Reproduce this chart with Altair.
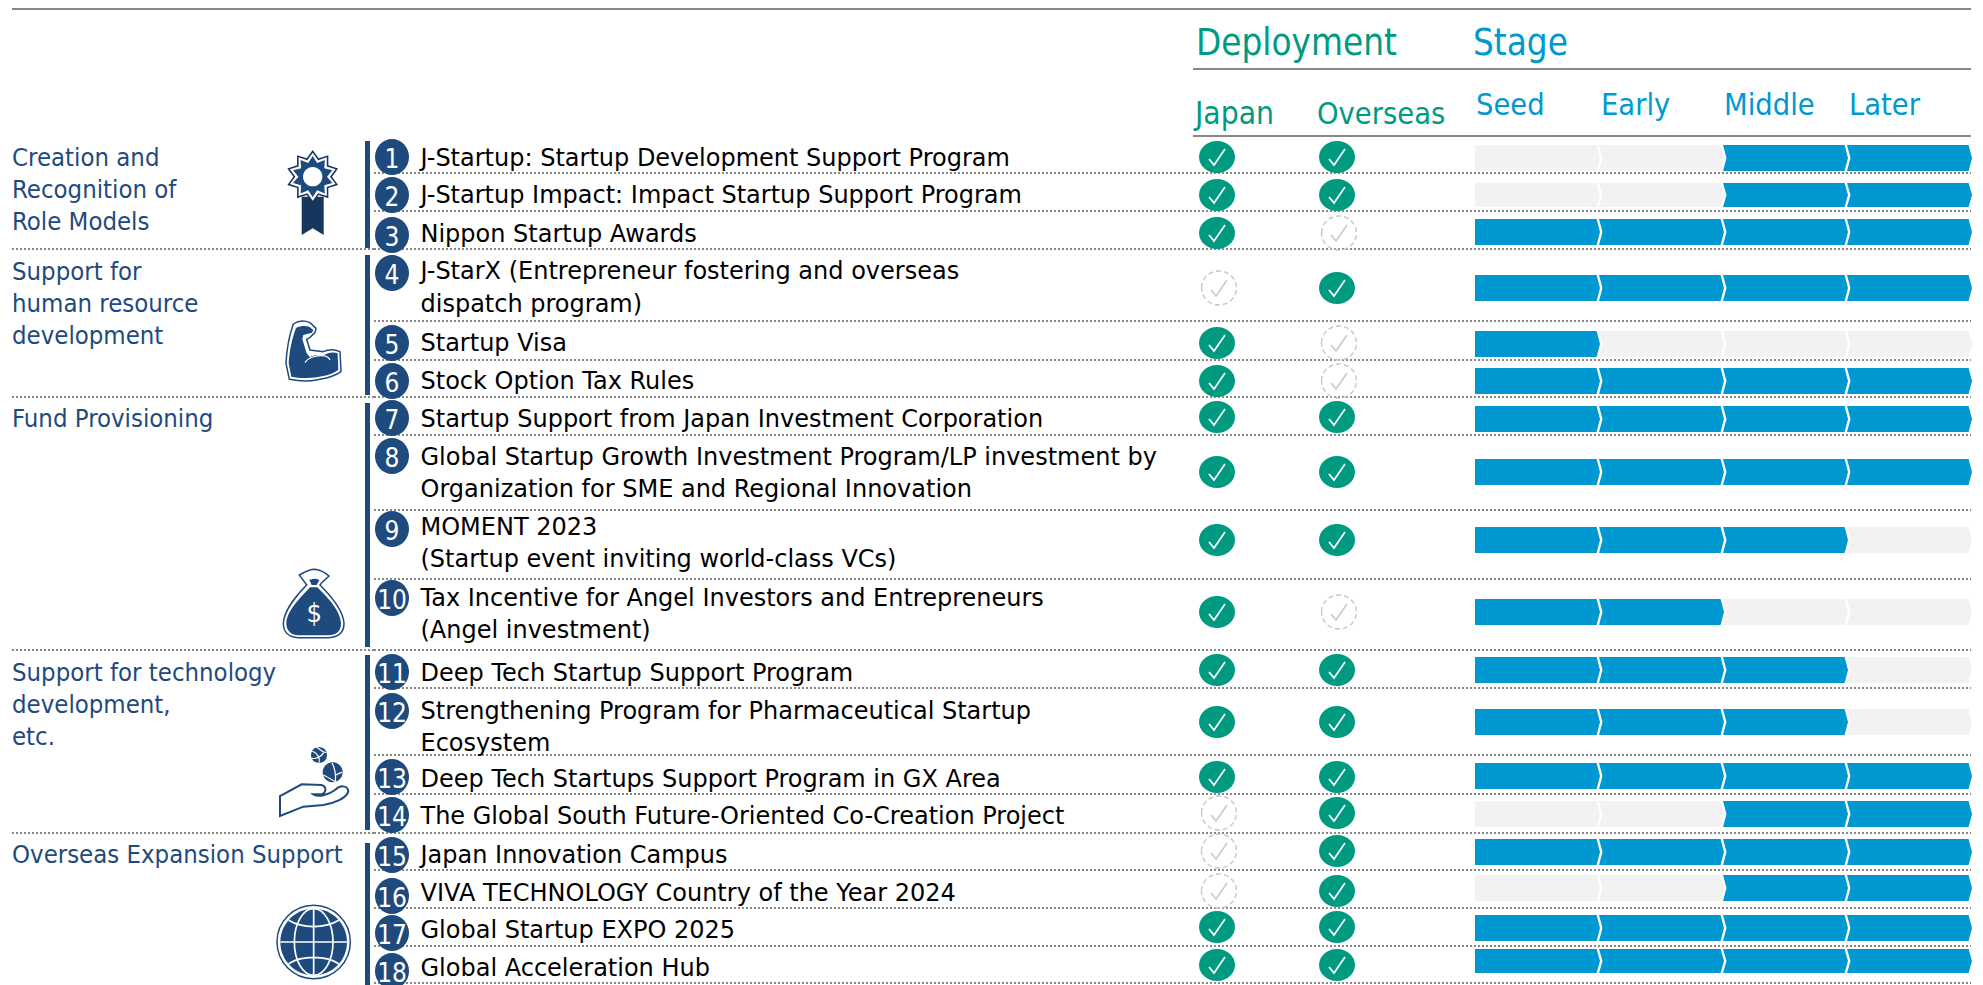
import altair as alt
import pandas as pd

# ---------- values ----------
PROGRAMS = [
    ["J-Startup: Startup Development Support Program"],
    ["J-Startup Impact: Impact Startup Support Program"],
    ["Nippon Startup Awards"],
    ["J-StarX (Entrepreneur fostering and overseas", "dispatch program)"],
    ["Startup Visa"],
    ["Stock Option Tax Rules"],
    ["Startup Support from Japan Investment Corporation"],
    ["Global Startup Growth Investment Program/LP investment by", "Organization for SME and Regional Innovation"],
    ["MOMENT 2023", "(Startup event inviting world-class VCs)"],
    ["Tax Incentive for Angel Investors and Entrepreneurs", "(Angel investment)"],
    ["Deep Tech Startup Support Program"],
    ["Strengthening Program for Pharmaceutical Startup", "Ecosystem"],
    ["Deep Tech Startups Support Program in GX Area"],
    ["The Global South Future-Oriented Co-Creation Project"],
    ["Japan Innovation Campus"],
    ["VIVA TECHNOLOGY Country of the Year 2024"],
    ["Global Startup EXPO 2025"],
    ["Global Acceleration Hub"],
]
GROUP_LINES = ["Creation and", "Recognition of", "Role Models",
               "Support for", "human resource", "development",
               "Fund Provisioning",
               "Support for technology", "development,", "etc.",
               "Overseas Expansion Support"]
DEPLOY_COLS = ["Japan", "Overseas"]
STAGES = ["Seed", "Early", "Middle", "Later"]
JAPAN =    [1,1,1,0,1,1,1,1,1,1,1,1,1,0,0,0,1,1]
OVERSEAS = [1,1,0,1,0,0,1,1,1,0,1,1,1,1,1,1,1,1]
SEED =     [0,0,1,1,1,1,1,1,1,1,1,1,1,0,1,0,1,1]
EARLY =    [0,0,1,1,0,1,1,1,1,1,1,1,1,0,1,0,1,1]
MIDDLE =   [1,1,1,1,0,1,1,1,1,0,1,1,1,1,1,1,1,1]
LATER =    [1,1,1,1,0,1,1,1,0,0,0,0,1,1,1,1,1,1]

# ---------- layout, in page pixels ----------
M = 8
W, H = 1983 - 2 * M, 985 - M
NAVY, DARK, GREEN, BLUE, PALE, GREY, RULE = "#1F4A7E", "#17365D", "#009A80", "#0098D0", "#F2F2F2", "#C8C8C8", "#888888"
FONT = "DejaVu Sans"
COND = "DejaVu Sans Condensed"

BAR_Y = [158,195,232,288,344,381,419,472,540,612,670,722,776,814,852,888,928,961]
CHK_Y = [157,195,233,288,343,381,417,472,540,612,670,722,777,813,851,891,927,965]
BADGE_Y = [157,195,235,273,343,381,418,456,529,598,672,711,777,815,855,896,933,971]
EDGE_Y = [173,211,249,321,360,397,435,510,579,650,688,755,794,833,870,908,946,983]
LINE_Y = [166,203,242,279,312,351,389,427,465,497,535,567,606,638,681,719,751,787,824,863,901,938,976]
GROUP_Y = [166,198,230,280,312,344,427,681,713,745,863]
GROUP_EDGE_ROWS = [3, 6, 10, 14]
SPINE_Y = [141,248,255,395,403,647,655,830,843,985]
STAGE_X = [1536,1660,1784,1908]
STAGE_LABEL_X = [1476,1601,1724,1849]


def up(vals):
    return [v - M for v in vals]


def pos(field, domain, rng):
    return dict(field=field, type="quantitative", axis=None,
                scale=alt.Scale(domain=list(domain), range=up(rng)))


def ellipse(rx, ry, dx=0):
    return (f"M{dx-rx} 0 C{dx-rx} {-ry*0.552} {dx-rx*0.552} {-ry} {dx} {-ry} "
            f"C{dx+rx*0.552} {-ry} {dx+rx} {-ry*0.552} {dx+rx} 0 "
            f"C{dx+rx} {ry*0.552} {dx+rx*0.552} {ry} {dx} {ry} "
            f"C{dx-rx*0.552} {ry} {dx-rx} {ry*0.552} {dx-rx} 0 Z")


def chevron(h, first):
    t = h / 2
    left = f"M-61 {-t} L60.6 {-t} L64 0 L60.6 {t} L-61 {t}"
    return left + (" Z" if first else " L-57.5 0 Z")


one = pd.DataFrame({"i": [0]})
layers = []


def rule(x1, x2, y, color=RULE, width=2, dash=None):
    kw = dict(color=color, strokeWidth=width, opacity=1)
    if dash:
        kw["strokeDash"] = dash
    return alt.Chart(one).mark_rule(**kw).encode(
        x=alt.value(x1 - M), x2=alt.value(x2 - M), y=alt.value(y - M))


def icon(d, x, y, fill=None, stroke=None, sw=1.0, k=1 / 3):
    kw = dict(shape=d, size=(2 * k) ** 2, opacity=1, strokeWidth=sw)
    kw["filled"] = fill is not None
    if fill:
        kw["fill"] = fill
    if stroke:
        kw["stroke"] = stroke
    else:
        kw["strokeWidth"] = 0
    return alt.Chart(one).mark_point(**kw).encode(x=alt.value(x - M), y=alt.value(y - M))


# header rules
layers += [rule(12, 1971, 9, width=2), rule(1193, 1971, 69), rule(1193, 1971, 136)]

# dotted separators
edge_df = pd.DataFrame({"edge": list(range(1, 19))})
edge_df["group"] = edge_df["edge"].isin(GROUP_EDGE_ROWS)
sep = dict(color=RULE, strokeWidth=2, strokeDash=[2, 2], opacity=1)
layers.append(alt.Chart(edge_df).mark_rule(**sep).encode(
    x=alt.value(374 - M), x2=alt.value(1971 - M),
    y=alt.Y(**pos("edge", range(1, 19), EDGE_Y))))
layers.append(alt.Chart(edge_df[edge_df["group"]]).mark_rule(**sep).encode(
    x=alt.value(12 - M), x2=alt.value(374 - M),
    y=alt.Y(**pos("edge", range(1, 19), EDGE_Y))))

# navy spines per group
spine_df = pd.DataFrame({"a": [0, 2, 4, 6, 8], "b": [1, 3, 5, 7, 9]})
layers.append(alt.Chart(spine_df).mark_rule(color=NAVY, strokeWidth=5, opacity=1).encode(
    x=alt.value(367.5 - M),
    y=alt.Y(**pos("a", range(10), SPINE_Y)),
    y2=alt.Y2("b:Q")))

# stage chevrons
rows = []
for r in range(18):
    for s, col in enumerate([SEED, EARLY, MIDDLE, LATER]):
        rows.append({"row": r + 1, "stage": s, "on": col[r],
                     "path": chevron(24 if r + 1 in (2, 18) else 26, s == 0)})
cells = pd.DataFrame(rows)
layers.append(alt.Chart(cells).mark_point(filled=True, size=4, opacity=1, strokeWidth=0).encode(
    x=alt.X(**pos("stage", range(4), STAGE_X)),
    y=alt.Y(**pos("row", range(1, 19), BAR_Y)),
    shape=alt.Shape("path:N", scale=None, legend=None),
    fill=alt.Fill("on:N", scale=alt.Scale(domain=[0, 1], range=[PALE, BLUE]), legend=None),
))

# deployment checks
dep = pd.DataFrame([{"row": r + 1, "col": c, "on": v[r]}
                    for r in range(18) for c, v in enumerate([JAPAN, OVERSEAS])])
chk_x = [1217, 1337]
xe = alt.X(**pos("col", [0, 1], chk_x))
ye = alt.Y(**pos("row", range(1, 19), CHK_Y))
tick = "M-8 2 L-3 8 L8 -8"
tick_off = "M-6 2 L-1 8 L10 -8"
on_df, off_df = dep[dep["on"] == 1], dep[dep["on"] == 0]
layers.append(alt.Chart(on_df).mark_point(shape=ellipse(18, 16), size=4, filled=True, fill=GREEN,
                                          opacity=1, strokeWidth=0).encode(x=xe, y=ye))
layers.append(alt.Chart(on_df).mark_point(shape=tick, size=4, filled=False, stroke="white",
                                          strokeWidth=1.7, opacity=1).encode(x=xe, y=ye))
layers.append(alt.Chart(off_df).mark_point(shape=ellipse(17.5, 17, 2), size=4, filled=False, stroke=GREY,
                                           strokeWidth=1.4, strokeDash=[5, 3], opacity=1).encode(x=xe, y=ye))
layers.append(alt.Chart(off_df).mark_point(shape=tick_off, size=4, filled=False, stroke=GREY,
                                           strokeWidth=1.5, opacity=1).encode(x=xe, y=ye))

# numbered badges
badge = pd.DataFrame({"row": list(range(1, 19)), "num": [str(i) for i in range(1, 19)]})
by = alt.Y(**pos("row", range(1, 19), BADGE_Y))
layers.append(alt.Chart(badge).mark_point(shape=ellipse(17, 18), size=4, filled=True, fill=NAVY,
                                          opacity=1, strokeWidth=0).encode(x=alt.value(392 - M), y=by))
layers.append(alt.Chart(badge).mark_text(font=COND, fontSize=26, color="white", align="center",
                                         baseline="middle", dy=3).encode(x=alt.value(392 - M), y=by, text="num:N"))

# programme text
prog_lines = [t for p in PROGRAMS for t in p]
prog = pd.DataFrame({"i": list(range(len(prog_lines))), "t": prog_lines})
layers.append(alt.Chart(prog).mark_text(font=FONT, fontSize=24, color="#000000", align="left",
                                        baseline="alphabetic").encode(
    x=alt.value(420.5 - M), y=alt.Y(**pos("i", prog["i"], LINE_Y)), text="t:N"))

# group text
grp = pd.DataFrame({"i": list(range(len(GROUP_LINES))), "t": GROUP_LINES})
layers.append(alt.Chart(grp).mark_text(font=COND, fontSize=25.5, color=NAVY, align="left",
                                       baseline="alphabetic").encode(
    x=alt.value(12 - M), y=alt.Y(**pos("i", grp["i"], GROUP_Y)), text="t:N"))

# column headers
def head(txt, x, y, size, color, font=COND):
    return alt.Chart(pd.DataFrame({"t": [txt]})).mark_text(font=font, fontSize=size, color=color, align="left",
                                                           baseline="alphabetic").encode(
        x=alt.value(x - M), y=alt.value(y - M), text="t:N")

layers += [head("Deployment", 1196, 55, 36.5, GREEN), head("Stage", 1473, 55, 36.5, BLUE)]
layers += [head(DEPLOY_COLS[0], 1195, 124, 31.5, GREEN), head(DEPLOY_COLS[1], 1317, 124, 30.5, GREEN)]
layers += [head(s, x, 115, 30.5, BLUE) for s, x in zip(STAGES, STAGE_LABEL_X)]

# ---- icons (paths in 3x local coordinates) ----
# medal
def star(ro, ri, n=10):
    import math
    pts = []
    for i in range(2 * n):
        r = ro if i % 2 == 0 else ri
        a = math.pi * i / n - math.pi / 2
        pts.append(f"{r*math.cos(a):.1f} {r*math.sin(a):.1f}")
    return "M" + " L".join(pts) + " Z"

mx, my = 312.7, 176.7
layers.append(icon("M-33 60 L-33 175 L0 155 L33 175 L33 60 Z", mx, my, fill=DARK))
layers.append(icon(star(80, 58), mx, my, fill=DARK))
layers.append(icon(star(72, 52), mx, my, fill="white"))
layers.append(icon(star(62, 43), mx, my, fill=NAVY))
layers.append(icon(ellipse(29, 29), mx, my, fill="white"))

# arm
ax, ay = 260 + 160 / 3, 300 + 160 / 3
arm_o = ("M-60 -88 C-45 -98 -25 -98 -10 -92 L8 -75 L5 -62 L-10 -48 L-20 -42 L-10 -10 L30 -5 "
         "C45 -12 65 -12 80 -5 L83 55 C55 75 30 75 10 80 C-20 85 -50 82 -72 78 L-82 30 C-80 -10 -70 -60 -60 -88 Z")
arm_i = ("M-52 -76 C-40 -82 -25 -83 -12 -80 L0 -70 L-4 -62 L-30 -55 L-33 -42 L-20 0 L-10 12 "
         "C0 5 15 5 30 8 C40 -2 58 -5 73 0 L75 50 C52 66 30 68 10 72 C-20 76 -45 74 -66 70 L-74 30 C-72 -10 -62 -50 -52 -76 Z")
layers.append(icon(arm_o, ax, ay, stroke=NAVY, fill="white", sw=1.5))
layers.append(icon(arm_i, ax, ay, fill=NAVY))
layers.append(icon("M-25 28 C-15 10 15 5 35 8 C42 10 48 14 50 20", ax, ay, stroke="white", sw=1.2, fill=None))

# money bag
bx, by_ = 260 + 160 / 3, 560 + 158 / 3
bag_o = ("M-42 -113 C-25 -123 -5 -130 5 -130 C20 -128 35 -120 47 -110 L25 -90 L20 -83 C45 -58 90 -8 92 32 "
         "C92 62 75 74 45 75 L-45 75 C-75 74 -90 57 -90 32 C-88 -8 -45 -58 -20 -83 L-25 -90 Z")
bag_i = ("M-10 -76 L12 -76 C35 -53 82 -8 83 32 C83 57 68 68 45 68 L-45 68 C-65 68 -82 54 -81 32 "
         "C-80 -8 -30 -53 -10 -76 Z")
layers.append(icon(bag_o, bx, by_, stroke=NAVY, fill="white", sw=1.5))
layers.append(icon(bag_i, bx, by_, fill=NAVY))
layers.append(icon("M-12 -98 C0 -103 10 -103 18 -98 L10 -83 L-5 -83 Z", bx, by_, fill=NAVY))
layers.append(head("$", 306.5, 622, 27, "white"))

# hand and balls
hx, hy = 260 + 160 / 3, 735 + 140 / 3
hand = ("M-100 103 L-100 43 L-35 8 L25 10 C40 15 40 32 25 38 L0 38 C15 48 45 40 65 25 C80 10 102 10 105 28 "
        "C102 50 60 65 30 70 L-30 75 Z")
layers.append(icon(hand, hx, hy, stroke=NAVY, sw=2, fill=None))
layers.append(icon(ellipse(24, 24), 260 + 177 / 3, 735 + 60 / 3, fill=NAVY))
layers.append(icon(ellipse(30, 30), 260 + 218 / 3, 735 + 112 / 3, fill=NAVY))
layers.append(icon("M-20 -12 C-5 -5 5 10 0 24 M-8 -24 C10 -12 15 -5 22 -8 M-22 10 C-10 12 5 5 14 -6", 260 + 177 / 3, 735 + 60 / 3,
                   stroke="white", sw=1.2))
layers.append(icon("M-29 8 C-15 12 5 30 12 28 M-2 -29 C8 -10 10 10 8 29 M10 8 C15 5 25 0 29 0", 260 + 218 / 3, 735 + 112 / 3,
                   stroke="white", sw=1.2))

# globe
gx, gy = 260 + 161 / 3, 895 + 141 / 3
layers.append(icon(ellipse(110, 110), gx, gy, stroke=NAVY, fill="white", sw=1.5))
layers.append(icon(ellipse(100, 100), gx, gy, fill=NAVY))
grid = ("M0 -100 L0 100 M-100 0 L100 0 M-75 -65 C-35 -40 35 -40 75 -65 M-75 65 C-35 40 35 40 75 65 "
        + ellipse(58, 100))
layers.append(icon(grid, gx, gy, stroke="white", sw=1.7))

chart = alt.layer(*layers).resolve_scale(x="independent", y="independent").properties(
    width=W, height=H, padding=0,
    autosize=alt.AutoSizeParams(type="none"),
).configure_view(stroke=None)

chart.save("out.html", embed_options={"renderer": "svg", "actions": False})
